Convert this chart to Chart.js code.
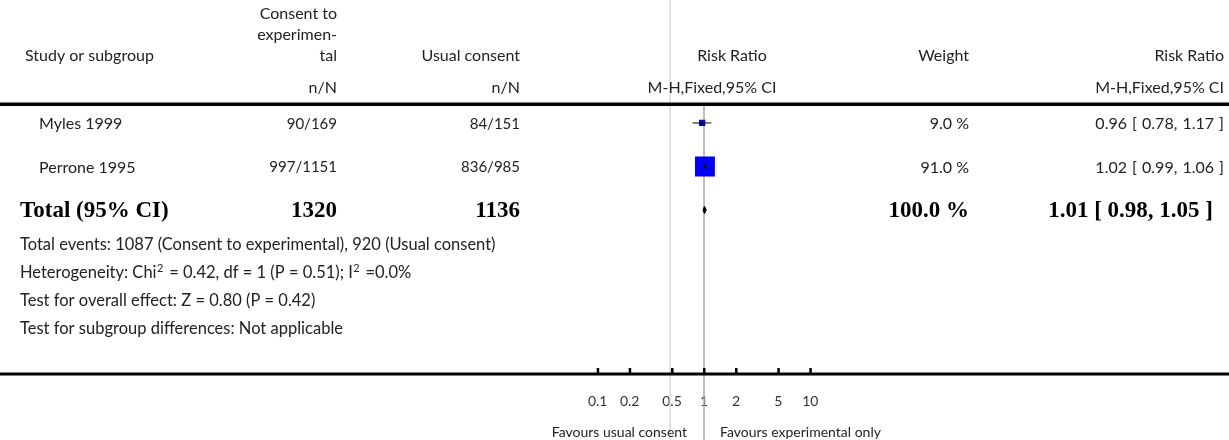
<!DOCTYPE html>
<html lang="en">
<head>
<meta charset="UTF-8">
<title>Forest plot - Risk Ratio</title>
<script src="https://cdn.jsdelivr.net/npm/chart.js"></script>
<style>
  html, body { margin: 0; padding: 0; background: #fff; }
  #wrap { width: 1229px; height: 440px; position: relative; }
</style>
</head>
<body>
<div id="wrap"><canvas id="forest"></canvas></div>
<script>
// Study data
const studies = ['Myles 1999', 'Perrone 1995'];
const expEvents = [90, 997];
const expTotal = [169, 1151];
const ctrlEvents = [84, 836];
const ctrlTotal = [151, 985];
const weights = [9.0, 91.0];
const riskRatio = [0.96, 1.02];
const ciLow = [0.78, 0.99];
const ciHigh = [1.17, 1.06];

// Pooled result
const totalExpN = 1320;
const totalCtrlN = 1136;
const totalWeight = 100.0;
const totalRR = 1.01;
const totalLow = 0.98;
const totalHigh = 1.05;

// Axis
const axisTicks = [0.1, 0.2, 0.5, 1, 2, 5, 10];
const axisMin = 0.1;
const axisMax = 10;

const footerLines = [
  'Total events: 1087 (Consent to experimental), 920 (Usual consent)',
  'Heterogeneity: Chi\u00B2 = 0.42, df = 1 (P = 0.51); I\u00B2 =0.0%',
  'Test for overall effect: Z = 0.80 (P = 0.42)',
  'Test for subgroup differences: Not applicable'
];
const favoursLeft = 'Favours usual consent';
const favoursRight = 'Favours experimental only';

// rows: 1..n studies, then total
const studyRows = studies.map((_, i) => i + 1);
const totalRow = studies.length + 1;

const SANS = "'Lato', 'Open Sans', sans-serif";
const SERIF = "'Liberation Serif', 'DejaVu Serif', serif";
const TEXT = '#222';

// column anchors (px)
const colStudy = 20;
const colExp = 337;
const colCtrl = 520;
const colWeight = 969;
const colRR = 1224;
const colRRBold = 1213;

function fmt2(v) { return v.toFixed(2); }
function ciText(rr, lo, hi) { return fmt2(rr) + ' [ ' + fmt2(lo) + ', ' + fmt2(hi) + ' ]'; }

// draws a line of text, turning each "²" into a small raised 2
function drawWithSup(ctx, text, x0, y0, size) {
  const parts = text.split('\u00B2');
  let cx = x0;
  parts.forEach((p, i) => {
    ctx.font = size + 'px ' + SANS;
    ctx.fillText(p, cx, y0);
    cx += ctx.measureText(p).width;
    if (i < parts.length - 1) {
      ctx.font = Math.round(size * 0.68) + 'px ' + SANS;
      ctx.fillText('2', cx + 0.5, y0 - 5);
      cx += ctx.measureText('2').width + 2;
    }
  });
}

const forestTable = {
  id: 'forestTable',
  beforeDatasetsDraw(chart) {
    const { ctx, scales: { x }, chartArea } = chart;
    ctx.save();
    // faint vertical line
    const gx = x.getPixelForValue(0.48);
    ctx.strokeStyle = '#d8d8d8';
    ctx.lineWidth = 1.5;
    ctx.beginPath(); ctx.moveTo(gx, 0); ctx.lineTo(gx, chart.height); ctx.stroke();
    // line of no effect
    const nx = x.getPixelForValue(1);
    ctx.strokeStyle = '#a8a8a8';
    ctx.beginPath(); ctx.moveTo(nx, chartArea.top); ctx.lineTo(nx, chart.height); ctx.stroke();
    ctx.restore();
  },
  afterDraw(chart) {
    const { ctx, scales: { x, y }, chartArea } = chart;
    const W = chart.width;
    ctx.save();

    // header rule + axis rule
    ctx.fillStyle = '#000';
    ctx.fillRect(0, chartArea.top - 3.5, W, 3.5);
    ctx.fillRect(0, chartArea.bottom - 1.5, W, 3);
    // tick marks pointing up
    axisTicks.forEach(v => {
      const px = x.getPixelForValue(v);
      ctx.fillRect(px - 1, chartArea.bottom - 6, 2.5, 6);
    });

    ctx.fillStyle = TEXT;
    ctx.textBaseline = 'middle';
    const nx = x.getPixelForValue(1);

    // header
    ctx.font = '16px ' + SANS;
    ctx.textAlign = 'left';
    ctx.fillText('Study or subgroup', colStudy + 5, 56);
    ctx.textAlign = 'right';
    ctx.fillText('Consent to', colExp, 14);
    ctx.fillText('experimen-', colExp, 35);
    ctx.fillText('tal', colExp, 56);
    ctx.fillText('n/N', colExp, 88);
    ctx.fillText('Usual consent', colCtrl, 56);
    ctx.fillText('n/N', colCtrl, 88);
    ctx.fillText('Weight', colWeight, 56);
    ctx.fillText('Risk Ratio', colRR, 56);
    ctx.fillText('M-H,Fixed,95% CI', colRR, 88);
    ctx.textAlign = 'center';
    ctx.fillText('Risk Ratio', nx + 28, 56);
    ctx.fillText('M-H,Fixed,95% CI', nx + 8, 88);

    // study rows
    studies.forEach((s, i) => {
      const py = y.getPixelForValue(studyRows[i]) + 1;
      ctx.font = '16px ' + SANS;
      ctx.textAlign = 'left';
      ctx.fillText(s, colStudy + 19, py);
      ctx.textAlign = 'right';
      ctx.font = '15px ' + SANS;
      ctx.fillText(expEvents[i] + '/' + expTotal[i], colExp, py);
      ctx.fillText(ctrlEvents[i] + '/' + ctrlTotal[i], colCtrl, py);
      ctx.font = '16px ' + SANS;
      ctx.fillText(weights[i].toFixed(1) + ' %', colWeight, py);
      ctx.wordSpacing = '1px';
      ctx.fillText(ciText(riskRatio[i], ciLow[i], ciHigh[i]), colRR, py);
      ctx.wordSpacing = '0px';
    });

    // total row
    const ty = y.getPixelForValue(totalRow) + 1;
    ctx.fillStyle = '#000';
    ctx.font = 'bold 23px ' + SERIF;
    ctx.textAlign = 'left';
    ctx.fillText('Total (95% CI)', colStudy, ty);
    ctx.textAlign = 'right';
    ctx.fillText(String(totalExpN), colExp, ty);
    ctx.fillText(String(totalCtrlN), colCtrl, ty);
    ctx.fillText(totalWeight.toFixed(1) + ' %', colWeight, ty);
    ctx.fillText(ciText(totalRR, totalLow, totalHigh), colRRBold, ty);

    // footer statistics
    ctx.fillStyle = TEXT;
    ctx.textAlign = 'left';
    footerLines.forEach((t, i) => {
      drawWithSup(ctx, t, colStudy, ty + 34 + i * 28, 16.5);
    });

    // favours labels
    ctx.font = '14px ' + SANS;
    ctx.textAlign = 'right';
    ctx.fillText(favoursLeft, nx - 17, 432);
    ctx.textAlign = 'left';
    ctx.fillText(favoursRight, nx + 16, 432);

    ctx.restore();
  }
};

// datasets built from the arrays above
const ciDatasets = studies.map((s, i) => ({
  type: 'line',
  label: s + ' CI',
  data: [{ x: ciLow[i], y: studyRows[i] }, { x: ciHigh[i], y: studyRows[i] }],
  borderColor: '#000',
  borderWidth: 1,
  pointRadius: 0,
  fill: false,
  order: 0
}));

const diamondHalf = 0.085;
const diamond = {
  type: 'line',
  label: 'Total',
  data: [
    { x: totalLow, y: totalRow },
    { x: totalRR, y: totalRow - diamondHalf },
    { x: totalHigh, y: totalRow },
    { x: totalRR, y: totalRow + diamondHalf },
    { x: totalLow, y: totalRow }
  ],
  borderColor: '#000',
  backgroundColor: '#000',
  borderWidth: 1,
  pointRadius: 0,
  fill: 'shape',
  tension: 0,
  order: 0
};

const squares = {
  type: 'scatter',
  label: 'Studies',
  data: studies.map((s, i) => ({ x: riskRatio[i], y: studyRows[i] })),
  pointStyle: 'rect',
  pointRadius: weights.map(w => Math.sqrt(w) * 1.48),
  backgroundColor: '#0000ff',
  borderWidth: 0,
  order: 2
};

const estMarks = {
  type: 'scatter',
  label: 'Estimates',
  data: studies.map((s, i) => ({ x: riskRatio[i], y: studyRows[i] })),
  pointStyle: 'line',
  rotation: 90,
  pointRadius: 2.5,
  borderColor: '#000',
  borderWidth: 1,
  order: 1
};

new Chart(document.getElementById('forest'), {
  type: 'scatter',
  data: { datasets: [...ciDatasets, diamond, estMarks, squares] },
  options: {
    responsive: true,
    maintainAspectRatio: false,
    animation: false,
    events: [],
    layout: { padding: { left: 597.7, right: 418.7, top: 106, bottom: 0 } },
    plugins: { legend: { display: false }, tooltip: { enabled: false } },
    scales: {
      x: {
        type: 'logarithmic',
        min: axisMin,
        max: axisMax,
        afterBuildTicks: s => { s.ticks = axisTicks.map(v => ({ value: v })); },
        afterFit: s => { s.height = 66; },
        grid: { display: false, drawTicks: false },
        border: { display: false },
        ticks: {
          autoSkip: false,
          maxRotation: 0,
          padding: 19,
          color: '#333',
          font: { family: SANS, size: 14 },
          callback: v => String(v)
        }
      },
      y: {
        type: 'linear',
        display: false,
        reverse: true,
        min: 0.61,
        max: 6.77
      }
    }
  },
  plugins: [forestTable]
});
</script>
</body>
</html>
